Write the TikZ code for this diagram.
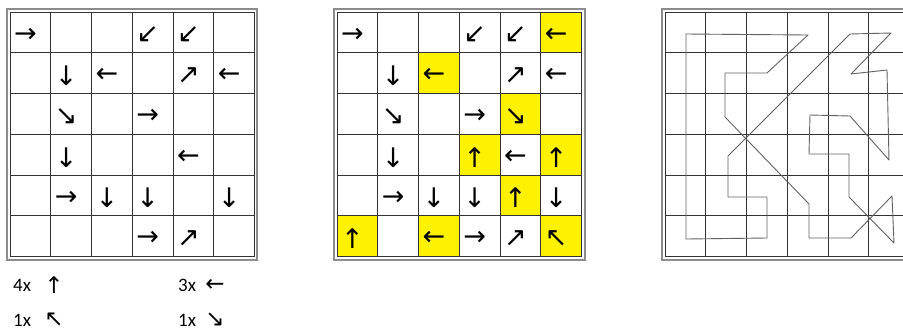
\documentclass[tikz,border=0pt]{standalone}
\usepackage{fontspec}
\setmainfont{Carlito}
\newfontfamily\arrowfont{DejaVu Sans}
\usetikzlibrary{positioning}
\begin{document}
\begin{tikzpicture}[x=1pt,y=-1pt,
  gridline/.style={draw=black!80,line width=0.95pt},
  frame/.style={draw=black!45,line width=1.4pt},
  arr/.style={anchor=west,inner sep=0pt,font=\arrowfont\fontsize{27}{27}\selectfont},
  legarr/.style={arr,font=\arrowfont\fontsize{23}{23}\selectfont},
  legtext/.style={anchor=west,inner sep=0pt,font=\fontsize{19}{19}\selectfont},
  route/.style={draw=black!62,line width=0.9pt,line join=round}]
\useasboundingbox (0,0) rectangle (903,333);

% grid 1: arrows of the puzzle
\draw[frame] (7,9) rectangle (257,260);
\foreach \k in {0,...,6}{
  \draw[gridline] (10+\k*40.75,12) -- (10+\k*40.75,256.5);
  \draw[gridline] (10,12+\k*40.75) -- (254.5,12+\k*40.75);
}
\foreach \c/\r/\a [count=\i] in {0/0/→,3/0/↙,4/0/↙,1/1/↓,2/1/←,4/1/↗,5/1/←,1/2/↘,3/2/→,1/3/↓,4/3/←,1/4/→,2/4/↓,3/4/↓,5/4/↓,3/5/→,4/5/↗}
  \node[arr] (a\i) at (10+\c*40.75+4,12+\r*40.75+23) {\a};

% grid 2: solved, added arrows in yellow
\draw[frame] (334,9) rectangle (585,260);
\foreach \c/\r in {5/0,2/1,4/2,3/3,5/3,4/4,0/5,2/5,5/5}
  \fill[yellow] (337+\c*40.75,12+\r*40.75) rectangle ++(40.75,40.75);
\foreach \k in {0,...,6}{
  \draw[gridline] (337+\k*40.75,12) -- (337+\k*40.75,256.5);
  \draw[gridline] (337,12+\k*40.75) -- (581.5,12+\k*40.75);
}
\foreach \c/\r/\a [count=\i] in {0/0/→,3/0/↙,4/0/↙,5/0/←,1/1/↓,2/1/←,4/1/↗,5/1/←,1/2/↘,3/2/→,4/2/↘,1/3/↓,3/3/↑,4/3/←,5/3/↑,1/4/→,2/4/↓,3/4/↓,4/4/↑,5/4/↓,0/5/↑,2/5/←,3/5/→,4/5/↗,5/5/↖}
  \node[arr] (b\i) at (337+\c*40.75+4,12+\r*40.75+23) {\a};

% grid 3: the route through all arrows
\draw[frame] (662,9) rectangle (913,260);
\foreach \k in {0,...,6}{
  \draw[gridline] (665+\k*40.75,12) -- (665+\k*40.75,256.5);
  \draw[gridline] (665,12+\k*40.75) -- (909.5,12+\k*40.75);
}
\foreach \x/\y [count=\i] in {686/34,808/35,767/73,725/73,725/117,809/204,809/238,851/238,892/196,894/243,849/197,849/154,809/154,810/115,850/116,889/160,887/70,851/74,891/33,850/34,728/156,728/197,767/197,767/238,686/239}
  \coordinate (p\i) at (\x,\y);
\draw[route] (p1) \foreach \i in {2,...,25}{ -- (p\i)} -- cycle;

% legend
\node[legtext] (cntup) at (13,285) {4x};
\node[legarr,right=13pt of cntup] (symup) {↑};
\node[legtext] (cntleft) at (178,285) {3x};
\node[legarr,right=9pt of cntleft] (symleft) {←};
\node[legtext] (cntnw) at (13,320) {1x};
\node[legarr,right=13pt of cntnw] (symnw) {↖};
\node[legtext] (cntse) at (178,320) {1x};
\node[legarr,right=9pt of cntse] (symse) {↘};
\end{tikzpicture}
\end{document}
